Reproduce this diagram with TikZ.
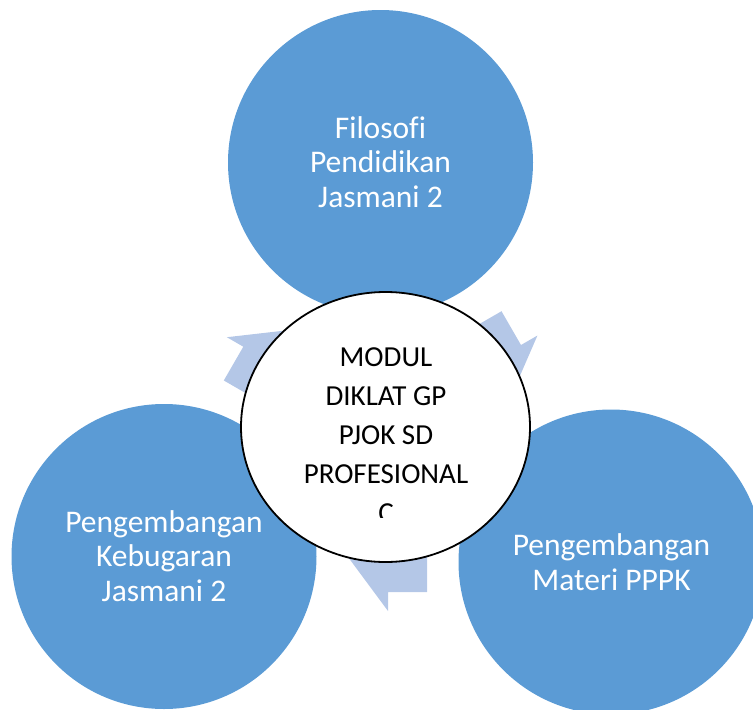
\documentclass[tikz,border=0pt]{standalone}
\usepackage{fontspec}
\setmainfont{Carlito}[Ligatures=NoCommon]
\usetikzlibrary{shapes.geometric}
\definecolor{cblue}{HTML}{5B9BD5}
\definecolor{carrow}{HTML}{B4C7E7}
\tikzset{
  outer/.style={circle, fill=cblue, minimum size=305pt, inner sep=0pt, draw=none},
  hub/.style={ellipse, draw=black, line width=1.8pt, fill=white, minimum width=289pt, minimum height=270pt, inner sep=0pt},
  cyclearrow/.style={fill=carrow, draw=none},
  outtext/.style={anchor=base, align=center, text=white, font=\fontsize{31.5}{34.5}\selectfont, inner sep=0pt},
  hubtext/.style={anchor=base, align=center, text=black, font=\fontsize{29}{39}\selectfont, inner sep=0pt}
}
\newcommand{\cycarrowpath}{(-39,0) -- (0,0) -- (0,-19) -- (43.7,40) -- (0,99) -- (0,80) -- (-39,80) -- cycle}
\begin{document}
\begin{tikzpicture}[x=1pt, y=-1pt]
\useasboundingbox (0,0) rectangle (753,710);
\clip (0,0) rectangle (753,710);
% cycle arrows
\begin{scope}[shift={(243.3,346.7)}, rotate=60]
  \fill[cyclearrow] \cycarrowpath;
\end{scope}
\begin{scope}[shift={(521,345)}, rotate=-60]
  \fill[cyclearrow] \cycarrowpath;
\end{scope}
\begin{scope}[shift={(388,592)}, rotate=180]
  \fill[cyclearrow] \cycarrowpath;
\end{scope}
% outer circles
\node[outer] (top) at (380.5,162.5) {};
\node[outer] (left) at (164,556.5) {};
\node[outer] (right) at (611,562) {};
\node[outtext] (ttop) at (380.5,207) {Filosofi\\Pendidikan\\Jasmani 2};
\node[outtext] (tleft) at (164,601) {Pengembangan\\Kebugaran\\Jasmani 2};
\node[outtext] (tright) at (611.5,590) {Pengembangan\\Materi PPPK};
% hub
\node[hub] (hub) at (385.5,427) {};
\begin{scope}
  \clip (240,291) rectangle (531,517);
  \node[hubtext] (thub) at (386,522) {MODUL\\DIKLAT GP\\PJOK SD\\PROFESIONAL\\C};
\end{scope}
\end{tikzpicture}
\end{document}
